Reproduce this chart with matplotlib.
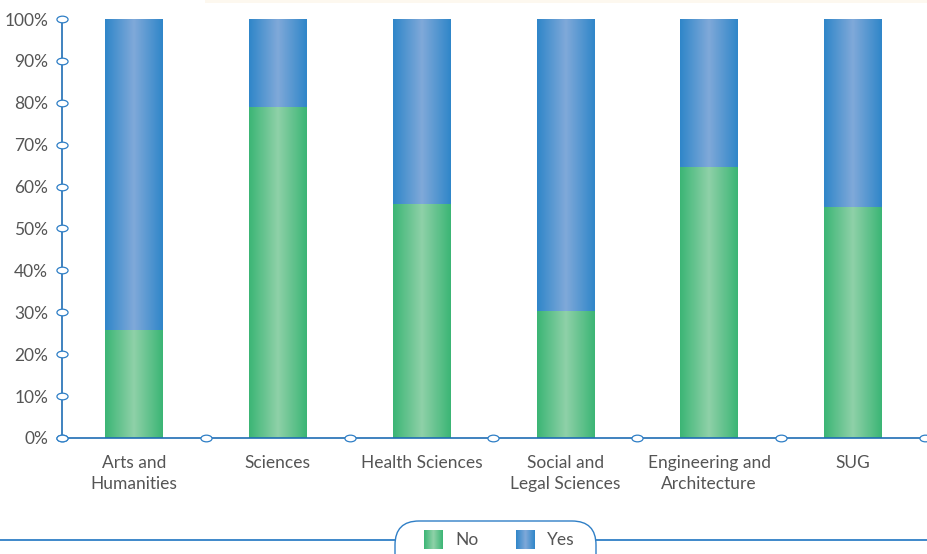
import numpy as np
import matplotlib
matplotlib.use("Agg")
import matplotlib.pyplot as plt
from matplotlib.colors import LinearSegmentedColormap
from matplotlib.patches import FancyBboxPatch, Rectangle
from matplotlib.path import Path

categories = ["Arts and\nHumanities", "Sciences", "Health Sciences",
              "Social and\nLegal Sciences", "Engineering and\nArchitecture", "SUG"]
no_pct = [25.8, 79.0, 55.8, 30.3, 64.7, 55.1]
yes_pct = [100 - v for v in no_pct]
yticks = list(range(0, 101, 10))

plt.rcParams['font.family'] = ['Lato', 'DejaVu Sans']
text_col = '#555555'
axis_col = '#1f6db4'
oval_col = '#2f7fc6'

green_cm = LinearSegmentedColormap.from_list('g', ['#3bb575', '#8fd1a8', '#3bb575'])
blue_cm = LinearSegmentedColormap.from_list('b', ['#2f86c9', '#80a9d9', '#2f86c9'])
grad = np.linspace(0, 1, 256).reshape(1, -1)

fig = plt.figure(figsize=(9.28, 5.54), dpi=100)

# background layer in pixel units for the legend strip
bg = fig.add_axes([0, 0, 1, 1], zorder=0)
bg.axis('off')
bg.add_patch(Rectangle((205, 0), 723, 3, color='#fdf8ef', lw=0, zorder=1))
bg.plot([0, 928], [540, 540], color=oval_col, lw=1.3, zorder=1)
bg.add_patch(FancyBboxPatch((395, 521), 201, 60, boxstyle='round,pad=0,rounding_size=24',
                            fc='white', ec=oval_col, lw=1.0, zorder=2))
for x0, cm, label in [(424, green_cm, 'No'), (516, blue_cm, 'Yes')]:
    bg.imshow(grad, cmap=cm, extent=(x0, x0 + 19, 549, 530), aspect='auto', zorder=3)
    bg.text(x0 + 31, 540, label, fontsize=12.5, color=text_col, va='center', zorder=4)
bg.set_xlim(0, 928)
bg.set_ylim(554, 0)

ax = fig.add_axes([62 / 928, 116 / 554, 863 / 928, 419 / 554], zorder=1)
ax.patch.set_alpha(0)

width = 0.40
x = np.arange(len(categories))
for xi, n, y in zip(x, no_pct, yes_pct):
    ax.imshow(grad, cmap=green_cm, extent=(xi - width / 2, xi + width / 2, 0, n),
              aspect='auto', zorder=2)
    ax.imshow(grad, cmap=blue_cm, extent=(xi - width / 2, xi + width / 2, n, n + y),
              aspect='auto', zorder=2)

ax.set_xlim(-0.5, len(categories) - 0.5)
ax.set_ylim(0, 100)

for s in ['top', 'right']:
    ax.spines[s].set_visible(False)
for s in ['left', 'bottom']:
    ax.spines[s].set_color(axis_col)
    ax.spines[s].set_linewidth(1.2)

ax.set_yticks(yticks)
ax.set_yticklabels([f"{t}%" for t in yticks])
ax.set_xticks(x)
ax.set_xticklabels(categories, linespacing=1.4)
ax.tick_params(axis='both', length=0, labelsize=12.5, labelcolor=text_col)
ax.tick_params(axis='y', pad=10)
ax.tick_params(axis='x', pad=12)

# oval tick markers on both axes
circle = Path.unit_circle()
oval = Path(circle.vertices * np.array([1.0, 0.6]), circle.codes)
ax.plot(np.zeros(len(yticks)) - 0.5, yticks, ls='none', marker=oval, ms=8,
        mfc='white', mec=oval_col, mew=0.9, clip_on=False, zorder=5)
bounds = np.arange(len(categories) + 1) - 0.5
ax.plot(bounds, np.zeros(len(bounds)), ls='none', marker=oval, ms=8,
        mfc='white', mec=oval_col, mew=0.9, clip_on=False, zorder=5)

fig.savefig('out.png', dpi=100)
